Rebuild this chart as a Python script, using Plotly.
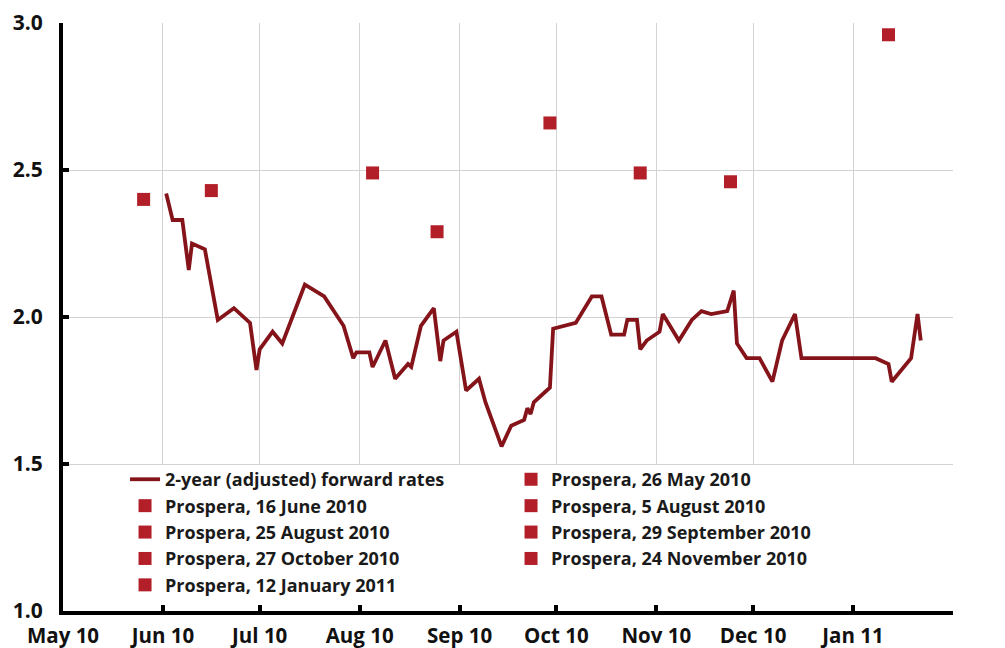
import plotly.graph_objects as go

# 2-year (adjusted) forward rates
fwd_dates = ["2010-06-02", "2010-06-04", "2010-06-07", "2010-06-09", "2010-06-10", "2010-06-14",
             "2010-06-18", "2010-06-23", "2010-06-28", "2010-06-30", "2010-07-01", "2010-07-05",
             "2010-07-08", "2010-07-15", "2010-07-21", "2010-07-27", "2010-07-30", "2010-07-31",
             "2010-08-04", "2010-08-05", "2010-08-09", "2010-08-12", "2010-08-16", "2010-08-17",
             "2010-08-20", "2010-08-24", "2010-08-26", "2010-08-27", "2010-08-31", "2010-09-03",
             "2010-09-07", "2010-09-09", "2010-09-14", "2010-09-17", "2010-09-21", "2010-09-22",
             "2010-09-23", "2010-09-24", "2010-09-28", "2010-09-29", "2010-09-30", "2010-10-06",
             "2010-10-07", "2010-10-12", "2010-10-15", "2010-10-18", "2010-10-22", "2010-10-23",
             "2010-10-26", "2010-10-27", "2010-10-29", "2010-11-02", "2010-11-03", "2010-11-08",
             "2010-11-12", "2010-11-15", "2010-11-18", "2010-11-23", "2010-11-25", "2010-11-26",
             "2010-11-29", "2010-12-03", "2010-12-07", "2010-12-10", "2010-12-14", "2010-12-16",
             "2011-01-08", "2011-01-12", "2011-01-13", "2011-01-19", "2011-01-21", "2011-01-22"]
fwd_values = [2.42, 2.33, 2.33, 2.16, 2.25, 2.23,
              1.99, 2.03, 1.98, 1.82, 1.89, 1.95,
              1.91, 2.11, 2.07, 1.97, 1.86, 1.88,
              1.88, 1.83, 1.92, 1.79, 1.84, 1.83,
              1.97, 2.03, 1.85, 1.92, 1.95, 1.75,
              1.79, 1.71, 1.56, 1.63, 1.65, 1.69,
              1.67, 1.71, 1.75, 1.76, 1.96, 1.98,
              1.98, 2.07, 2.07, 1.94, 1.94, 1.99,
              1.99, 1.89, 1.92, 1.95, 2.01, 1.92,
              1.99, 2.02, 2.01, 2.02, 2.09, 1.91,
              1.86, 1.86, 1.78, 1.92, 2.01, 1.86,
              1.86, 1.84, 1.78, 1.86, 2.01, 1.92]

# Prospera survey points
prospera_labels = ["Prospera, 26 May 2010", "Prospera, 16 June 2010", "Prospera, 5 August 2010",
                   "Prospera, 25 August 2010", "Prospera, 29 September 2010", "Prospera, 27 October 2010",
                   "Prospera, 24 November 2010", "Prospera, 12 January 2011"]
prospera_dates = ["2010-05-26", "2010-06-16", "2010-08-05", "2010-08-25",
                  "2010-09-29", "2010-10-27", "2010-11-24", "2011-01-12"]
prospera_values = [2.40, 2.43, 2.49, 2.29, 2.66, 2.49, 2.46, 2.96]

month_ticks = ["2010-05-01", "2010-06-01", "2010-07-01", "2010-08-01", "2010-09-01",
               "2010-10-01", "2010-11-01", "2010-12-01", "2011-01-01"]
month_labels = ["May 10", "Jun 10", "Jul 10", "Aug 10", "Sep 10",
                "Oct 10", "Nov 10", "Dec 10", "Jan 11"]

line_col = "#85141A"
sq_col = "#B21F29"
font_fam = "Open Sans, Noto Sans, sans-serif"

fig = go.Figure()
fig.add_trace(go.Scatter(x=fwd_dates, y=fwd_values, mode="lines",
                         name="2-year (adjusted) forward rates",
                         line=dict(color=line_col, width=3.8)))
for lab, d, v in zip(prospera_labels, prospera_dates, prospera_values):
    fig.add_trace(go.Scatter(x=[d], y=[v], mode="markers", name=lab,
                             marker=dict(symbol="square", size=13, color=sq_col)))

# white box behind the legend, covering the gridlines below 1.5
fig.add_shape(type="rect", xref="x", yref="y", x0="2010-05-01", x1="2011-02-01",
              y0=1.0, y1=1.497, fillcolor="white", line_width=0, layer="between")

axis_font = dict(family=font_fam, size=21, color="#111111", weight="bold")
yticks = [1.0, 1.5, 2.0, 2.5, 3.0]
# page body has an 8px margin, so the figure is a bit smaller than the window
fig.update_layout(
    width=997, height=640,
    margin=dict(l=55, r=52, t=15, b=37),
    paper_bgcolor="white", plot_bgcolor="white",
    font=dict(family=font_fam, color="#111111"),
    showlegend=True,
    legend=dict(orientation="h", x=0.0697, xanchor="left", y=0.255, yanchor="top",
                entrywidth=341, entrywidthmode="pixels", bgcolor="rgba(0,0,0,0)",
                font=dict(family=font_fam, size=18, color="#1a1a1a", weight="bold"),
                traceorder="normal"),
    xaxis=dict(type="date", range=["2010-05-01", "2011-02-01"], automargin=False,
               tickvals=month_ticks, ticktext=month_labels,
               showgrid=True, gridcolor="#D3D3D6", gridwidth=1,
               showline=True, linecolor="black", linewidth=4,
               ticks="inside", ticklen=6, tickwidth=4, tickcolor="black",
               ticklabelstandoff=3, tickfont=dict(axis_font, size=20.5), zeroline=False),
    yaxis=dict(range=[1.0, 3.0], tickvals=yticks, tickformat=".1f", automargin=False,
               showgrid=True, gridcolor="#D3D3D6", gridwidth=1,
               showline=True, linecolor="black", linewidth=4,
               ticks="inside", ticklen=6, tickwidth=4, tickcolor="black",
               ticklabelstandoff=12, tickfont=axis_font, zeroline=False),
    yaxis2=dict(range=[1.0, 3.0], tickvals=yticks, tickformat=".1f", automargin=False,
                overlaying="y", side="right", matches="y", showgrid=False,
                showline=True, linecolor="black", linewidth=4,
                ticks="inside", ticklen=6, tickwidth=4, tickcolor="black",
                ticklabelstandoff=12, tickfont=axis_font, zeroline=False),
)

fig.write_html("out.html")
